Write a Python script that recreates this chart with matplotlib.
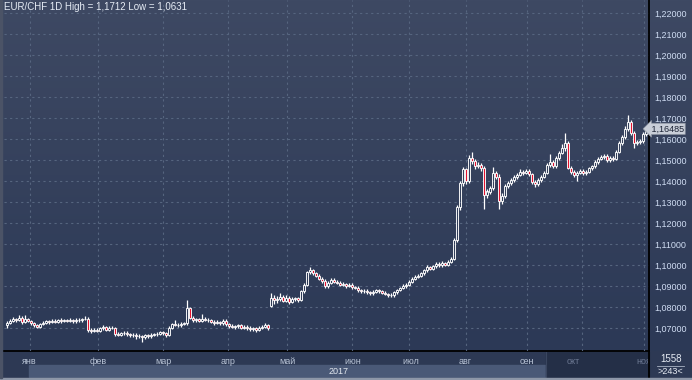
import numpy as np
import matplotlib
matplotlib.use('Agg')
import matplotlib.pyplot as plt
from matplotlib.colors import LinearSegmentedColormap
from matplotlib.patches import Rectangle
from matplotlib.transforms import Bbox, blended_transform_factory

plt.rcParams['font.family'] = ['Liberation Sans', 'DejaVu Sans']

# ---------------- data (EUR/CHF daily, 2017) ----------------
opens = [
    1.0715, 1.0725, 1.0735, 1.0742, 1.0738, 1.0750, 1.0728, 1.0745, 1.0735, 1.0722,
    1.0712, 1.0705, 1.0718, 1.0725, 1.0732, 1.0728, 1.0735, 1.0730, 1.0738, 1.0733,
    1.0736, 1.0735, 1.0738, 1.0732, 1.0740, 1.0736, 1.0742, 1.0745, 1.0690, 1.0688,
    1.0692, 1.0688, 1.0698, 1.0705, 1.0692, 1.0700, 1.0702, 1.0672, 1.0668, 1.0675,
    1.0678, 1.0672, 1.0665, 1.0668, 1.0660, 1.0662, 1.0658, 1.0665, 1.0660, 1.0668,
    1.0670, 1.0672, 1.0680, 1.0675, 1.0665, 1.0700, 1.0718, 1.0715, 1.0712, 1.0720,
    1.0722, 1.0795, 1.0750, 1.0738, 1.0742, 1.0735, 1.0745, 1.0740, 1.0738, 1.0730,
    1.0725, 1.0728, 1.0722, 1.0735, 1.0718, 1.0710, 1.0705, 1.0708, 1.0712, 1.0702,
    1.0706, 1.0700, 1.0695, 1.0698, 1.0690, 1.0702, 1.0705, 1.0712, 1.0805, 1.0845,
    1.0832, 1.0840, 1.0850, 1.0830, 1.0845, 1.0825, 1.0838, 1.0842, 1.0835, 1.0875,
    1.0905, 1.0965, 1.0975, 1.0960, 1.0950, 1.0935, 1.0925, 1.0900, 1.0915, 1.0930,
    1.0920, 1.0915, 1.0905, 1.0910, 1.0900, 1.0905, 1.0895, 1.0892, 1.0880, 1.0875,
    1.0878, 1.0870, 1.0865, 1.0872, 1.0880, 1.0875, 1.0868, 1.0862, 1.0858, 1.0855,
    1.0870, 1.0880, 1.0890, 1.0900, 1.0905, 1.0920, 1.0935, 1.0945, 1.0950, 1.0960,
    1.0975, 1.0990, 1.0982, 1.0995, 1.1005, 1.0998, 1.1010, 1.1002, 1.1015, 1.1030,
    1.1120, 1.1275, 1.1390, 1.1455, 1.1398, 1.1510, 1.1495, 1.1470, 1.1478, 1.1462,
    1.1335, 1.1350, 1.1365, 1.1440, 1.1420, 1.1305, 1.1330, 1.1375, 1.1390, 1.1405,
    1.1420, 1.1430, 1.1445, 1.1440, 1.1448, 1.1432, 1.1395, 1.1385, 1.1405, 1.1420,
    1.1440, 1.1475, 1.1490, 1.1470, 1.1510, 1.1535, 1.1555, 1.1580, 1.1462, 1.1445,
    1.1430, 1.1440, 1.1450, 1.1438, 1.1445, 1.1460, 1.1470, 1.1490, 1.1505, 1.1515,
    1.1520, 1.1500, 1.1510, 1.1505, 1.1540, 1.1580, 1.1610, 1.1650, 1.1680, 1.1630,
    1.1580, 1.1585, 1.1590, 1.1625,
]
highs = [
    1.0732, 1.0742, 1.0752, 1.0748, 1.0760, 1.0755, 1.0762, 1.0750, 1.0740, 1.0728,
    1.0720, 1.0725, 1.0732, 1.0740, 1.0738, 1.0745, 1.0742, 1.0745, 1.0748, 1.0742,
    1.0745, 1.0746, 1.0744, 1.0748, 1.0746, 1.0750, 1.0756, 1.0752, 1.0698, 1.0700,
    1.0700, 1.0705, 1.0712, 1.0710, 1.0708, 1.0710, 1.0706, 1.0680, 1.0682, 1.0685,
    1.0686, 1.0678, 1.0676, 1.0674, 1.0670, 1.0668, 1.0672, 1.0671, 1.0676, 1.0678,
    1.0680, 1.0688, 1.0686, 1.0682, 1.0708, 1.0725, 1.0740, 1.0722, 1.0728, 1.0730,
    1.0833, 1.0802, 1.0758, 1.0750, 1.0750, 1.0768, 1.0752, 1.0748, 1.0745, 1.0738,
    1.0736, 1.0735, 1.0742, 1.0742, 1.0726, 1.0718, 1.0715, 1.0720, 1.0718, 1.0714,
    1.0714, 1.0708, 1.0705, 1.0706, 1.0710, 1.0712, 1.0726, 1.0718, 1.0865, 1.0856,
    1.0852, 1.0866, 1.0858, 1.0855, 1.0852, 1.0846, 1.0850, 1.0848, 1.0882, 1.0912,
    1.0972, 1.0990, 1.0982, 1.0968, 1.0958, 1.0945, 1.0932, 1.0922, 1.0940, 1.0938,
    1.0928, 1.0922, 1.0918, 1.0916, 1.0912, 1.0912, 1.0902, 1.0898, 1.0888, 1.0885,
    1.0885, 1.0878, 1.0880, 1.0888, 1.0886, 1.0882, 1.0875, 1.0868, 1.0865, 1.0876,
    1.0886, 1.0896, 1.0908, 1.0912, 1.0928, 1.0942, 1.0952, 1.0958, 1.0968, 1.0982,
    1.0998, 1.0996, 1.1002, 1.1012, 1.1012, 1.1018, 1.1016, 1.1025, 1.1040, 1.1128,
    1.1285, 1.1400, 1.1465, 1.1462, 1.1525, 1.1540, 1.1505, 1.1490, 1.1486, 1.1470,
    1.1362, 1.1378, 1.1465, 1.1450, 1.1432, 1.1342, 1.1384, 1.1398, 1.1415, 1.1430,
    1.1438, 1.1455, 1.1452, 1.1458, 1.1456, 1.1440, 1.1405, 1.1412, 1.1428, 1.1448,
    1.1485, 1.1530, 1.1498, 1.1518, 1.1545, 1.1575, 1.1630, 1.1590, 1.1470, 1.1452,
    1.1448, 1.1458, 1.1458, 1.1452, 1.1468, 1.1478, 1.1498, 1.1512, 1.1524, 1.1528,
    1.1528, 1.1518, 1.1518, 1.1548, 1.1590, 1.1620, 1.1660, 1.1712, 1.1690, 1.1638,
    1.1595, 1.1600, 1.1635, 1.1658,
]
lows = [
    1.0702, 1.0718, 1.0728, 1.0730, 1.0732, 1.0720, 1.0722, 1.0728, 1.0715, 1.0705,
    1.0698, 1.0700, 1.0712, 1.0718, 1.0720, 1.0722, 1.0724, 1.0722, 1.0726, 1.0727,
    1.0728, 1.0730, 1.0725, 1.0726, 1.0730, 1.0729, 1.0736, 1.0682, 1.0678, 1.0680,
    1.0680, 1.0682, 1.0690, 1.0685, 1.0686, 1.0694, 1.0662, 1.0660, 1.0662, 1.0668,
    1.0664, 1.0656, 1.0658, 1.0650, 1.0652, 1.0631, 1.0648, 1.0652, 1.0652, 1.0660,
    1.0662, 1.0666, 1.0668, 1.0658, 1.0660, 1.0694, 1.0708, 1.0705, 1.0706, 1.0712,
    1.0715, 1.0745, 1.0730, 1.0730, 1.0728, 1.0728, 1.0732, 1.0730, 1.0722, 1.0716,
    1.0718, 1.0714, 1.0715, 1.0710, 1.0702, 1.0698, 1.0696, 1.0700, 1.0694, 1.0695,
    1.0692, 1.0688, 1.0688, 1.0682, 1.0684, 1.0695, 1.0698, 1.0690, 1.0798, 1.0815,
    1.0818, 1.0830, 1.0822, 1.0824, 1.0815, 1.0818, 1.0830, 1.0826, 1.0828, 1.0868,
    1.0898, 1.0955, 1.0952, 1.0942, 1.0928, 1.0915, 1.0892, 1.0890, 1.0908, 1.0912,
    1.0908, 1.0898, 1.0898, 1.0892, 1.0894, 1.0888, 1.0885, 1.0872, 1.0868, 1.0868,
    1.0862, 1.0858, 1.0858, 1.0865, 1.0868, 1.0860, 1.0855, 1.0850, 1.0846, 1.0848,
    1.0862, 1.0874, 1.0884, 1.0892, 1.0898, 1.0912, 1.0928, 1.0938, 1.0942, 1.0952,
    1.0968, 1.0975, 1.0976, 1.0988, 1.0990, 1.0990, 1.0995, 1.0994, 1.1008, 1.1025,
    1.1110, 1.1262, 1.1375, 1.1385, 1.1390, 1.1480, 1.1455, 1.1460, 1.1450, 1.1265,
    1.1320, 1.1340, 1.1355, 1.1410, 1.1265, 1.1290, 1.1320, 1.1365, 1.1380, 1.1395,
    1.1410, 1.1422, 1.1430, 1.1432, 1.1422, 1.1385, 1.1372, 1.1378, 1.1395, 1.1412,
    1.1432, 1.1468, 1.1462, 1.1462, 1.1500, 1.1528, 1.1545, 1.1455, 1.1435, 1.1420,
    1.1400, 1.1432, 1.1428, 1.1430, 1.1438, 1.1452, 1.1462, 1.1482, 1.1498, 1.1505,
    1.1492, 1.1490, 1.1496, 1.1498, 1.1532, 1.1572, 1.1600, 1.1640, 1.1620, 1.1555,
    1.1572, 1.1578, 1.1582, 1.1615,
]
closes = [
    1.0725, 1.0735, 1.0742, 1.0738, 1.0750, 1.0728, 1.0745, 1.0735, 1.0722, 1.0712,
    1.0705, 1.0718, 1.0725, 1.0732, 1.0728, 1.0735, 1.0730, 1.0738, 1.0733, 1.0736,
    1.0735, 1.0738, 1.0732, 1.0740, 1.0736, 1.0742, 1.0745, 1.0690, 1.0688, 1.0692,
    1.0688, 1.0698, 1.0705, 1.0692, 1.0700, 1.0702, 1.0672, 1.0668, 1.0675, 1.0678,
    1.0672, 1.0665, 1.0668, 1.0660, 1.0662, 1.0658, 1.0665, 1.0660, 1.0668, 1.0670,
    1.0672, 1.0680, 1.0675, 1.0665, 1.0700, 1.0718, 1.0715, 1.0712, 1.0720, 1.0722,
    1.0795, 1.0750, 1.0738, 1.0742, 1.0735, 1.0745, 1.0740, 1.0738, 1.0730, 1.0725,
    1.0728, 1.0722, 1.0735, 1.0718, 1.0710, 1.0705, 1.0708, 1.0712, 1.0702, 1.0706,
    1.0700, 1.0695, 1.0698, 1.0690, 1.0702, 1.0705, 1.0712, 1.0698, 1.0845, 1.0832,
    1.0840, 1.0850, 1.0830, 1.0845, 1.0825, 1.0838, 1.0842, 1.0835, 1.0875, 1.0905,
    1.0965, 1.0975, 1.0960, 1.0950, 1.0935, 1.0925, 1.0900, 1.0915, 1.0930, 1.0920,
    1.0915, 1.0905, 1.0910, 1.0900, 1.0905, 1.0895, 1.0892, 1.0880, 1.0875, 1.0878,
    1.0870, 1.0865, 1.0872, 1.0880, 1.0875, 1.0868, 1.0862, 1.0858, 1.0855, 1.0870,
    1.0880, 1.0890, 1.0900, 1.0905, 1.0920, 1.0935, 1.0945, 1.0950, 1.0960, 1.0975,
    1.0990, 1.0982, 1.0995, 1.1005, 1.0998, 1.1010, 1.1002, 1.1015, 1.1030, 1.1120,
    1.1275, 1.1390, 1.1455, 1.1398, 1.1510, 1.1495, 1.1470, 1.1478, 1.1462, 1.1335,
    1.1350, 1.1365, 1.1440, 1.1420, 1.1305, 1.1330, 1.1375, 1.1390, 1.1405, 1.1420,
    1.1430, 1.1445, 1.1440, 1.1448, 1.1432, 1.1395, 1.1385, 1.1405, 1.1420, 1.1440,
    1.1475, 1.1490, 1.1470, 1.1510, 1.1535, 1.1555, 1.1580, 1.1462, 1.1445, 1.1430,
    1.1440, 1.1450, 1.1438, 1.1445, 1.1460, 1.1470, 1.1490, 1.1505, 1.1515, 1.1520,
    1.1500, 1.1510, 1.1505, 1.1540, 1.1580, 1.1610, 1.1650, 1.1680, 1.1630, 1.1580,
    1.1585, 1.1590, 1.1625, 1.16485,
]

price_ticks = [1.07, 1.08, 1.09, 1.10, 1.11, 1.12, 1.13, 1.14,
               1.15, 1.16, 1.17, 1.18, 1.19, 1.20, 1.21, 1.22]
month_labels = ['янв', 'фев', 'мар', 'апр', 'май', 'июн',
                'июл', 'авг', 'сен', 'окт', 'ноя']
month_grid = [7.67, 30.43, 52.1, 73.77, 93.23, 114.9, 134.1, 152.9, 173.4, 191.8, 212.4]
month_label_pos = [7.3, 30.4, 52.15, 73.8, 93.4, 115.2, 134.6, 152.7, 173.3, 188.6, 212.4]
year_label = '2017'
title = 'EUR/CHF 1D High = 1,1712 Low = 1,0631'
last_price = 1.16485
bars_total = '1558'
bars_visible = '>243<'

# ---------------- figure ----------------
W, H = 692, 380
fig = plt.figure(figsize=(W / 100, H / 100), dpi=100)

bg = fig.add_axes([0, 0, 1, 1])
bg.set_xlim(0, W)
bg.set_ylim(H, 0)
bg.axis('off')
cmap = LinearSegmentedColormap.from_list('bgc', ['#3e4963', '#2c3956'])
grad = np.linspace(0, 1, 256).reshape(-1, 1)
bg.imshow(grad, extent=[0, W, 351, 0], aspect='auto', cmap=cmap, zorder=0)
bg.add_patch(Rectangle((0, 351), W, 29, color='#2d3954', zorder=1))
bg.add_patch(Rectangle((29, 365), 517, 12, color='#4a5977', zorder=2))
bg.add_patch(Rectangle((546, 352), 103, 25, color='#242f47', zorder=2))
bg.plot([546, 546], [352, 377], color='#3a4660', lw=0.8, zorder=3)
bg.plot([0, 649], [351, 351], color='black', lw=1.3, zorder=4)
bg.plot([649, 649], [0, 378], color='black', lw=1.3, zorder=4)
bg.add_patch(Rectangle((0, 377.5), W, 2.5, color='#8e97a8', zorder=5))
bg.add_patch(Rectangle((0, 0), 1.5, 378, color='#4b5366', zorder=5))
bg.text(349, 371.5, year_label, ha='right', va='center', fontsize=6.5,
        color='#e2e7ef', zorder=6)
bg.text(671, 358.5, bars_total, ha='center', va='center', fontsize=7,
        color='#e6ebf3', zorder=6)
bg.plot([657, 684], [365.5, 365.5], color='#aab3c4', lw=0.6, zorder=6)
bg.text(670.5, 371.5, bars_visible, ha='center', va='center', fontsize=6.5,
        color='#e6ebf3', zorder=6)

ax = fig.add_axes([4 / W, (H - 351) / H, 645 / W, 351 / H])
ax.patch.set_alpha(0)
ax.set_xlim(-1, 214)
ax.set_ylim(1.22 - (351 - 13) / 2100, 1.22 + 13 / 2100)

for s in ['top', 'left', 'bottom', 'right']:
    ax.spines[s].set_visible(False)

ax.set_yticks(price_ticks)
ax.set_yticklabels([f'{p:.5f}'.replace('.', ',') for p in price_ticks])
ax.yaxis.tick_right()
ax.tick_params(axis='y', length=0, pad=4, labelsize=6.5, labelcolor='#cfdcf2')

ax.xaxis.remove_overlapping_locs = False
ax.set_xticks(month_grid)
ax.set_xticklabels([])
ax.set_xticks(month_label_pos, minor=True)
ax.set_xticklabels(month_labels, minor=True)
ax.tick_params(axis='x', which='both', length=0)
ax.tick_params(axis='x', which='minor', pad=4, labelsize=6.5, labelcolor='#b9c4d6')
mlabels = ax.get_xticklabels(minor=True)
for lab in mlabels[-2:]:
    lab.set_color('#6b7791')
mlabels[-1].set_clip_box(Bbox([[0, 0], [648, H]]))
mlabels[-1].set_clip_on(True)

ax.grid(True, which='major', color='#56657f', linestyle=(0, (2, 3)), linewidth=0.8)
ax.set_axisbelow(True)

# candles
O = np.array(opens)
Hh = np.array(highs)
L = np.array(lows)
C = np.array(closes)
x = np.arange(len(C))
top = np.maximum(O, C)
bot = np.minimum(O, C)
up = C >= O
ax.vlines(x, top, Hh, color='white', lw=0.9, zorder=3)
ax.vlines(x, L, bot, color='white', lw=0.9, zorder=3)
heights = np.maximum(top - bot, 0.00012)
ax.bar(x[up], heights[up], bottom=bot[up], width=0.72, facecolor='none',
       edgecolor='white', linewidth=0.65, zorder=4)
ax.bar(x[~up], heights[~up], bottom=bot[~up], width=0.72, facecolor='#e3122f',
       edgecolor='white', linewidth=0.65, zorder=4)

# last price marker
tr = blended_transform_factory(ax.transAxes, ax.transData)
ax.text(1.0, last_price, ' ' + f'{last_price:.5f}'.replace('.', ','), transform=tr,
        ha='left', va='center', fontsize=6.5, color='#1d2436', clip_on=False,
        bbox=dict(boxstyle='larrow,pad=0.12', fc='#c9ced8', ec='#8f96a3', lw=0.5),
        zorder=10)

fig.text(4 / W, 1 - 7.5 / H, title, ha='left', va='center', fontsize=7, color='#e6ecf5')

fig.savefig('out.png', dpi=100)
